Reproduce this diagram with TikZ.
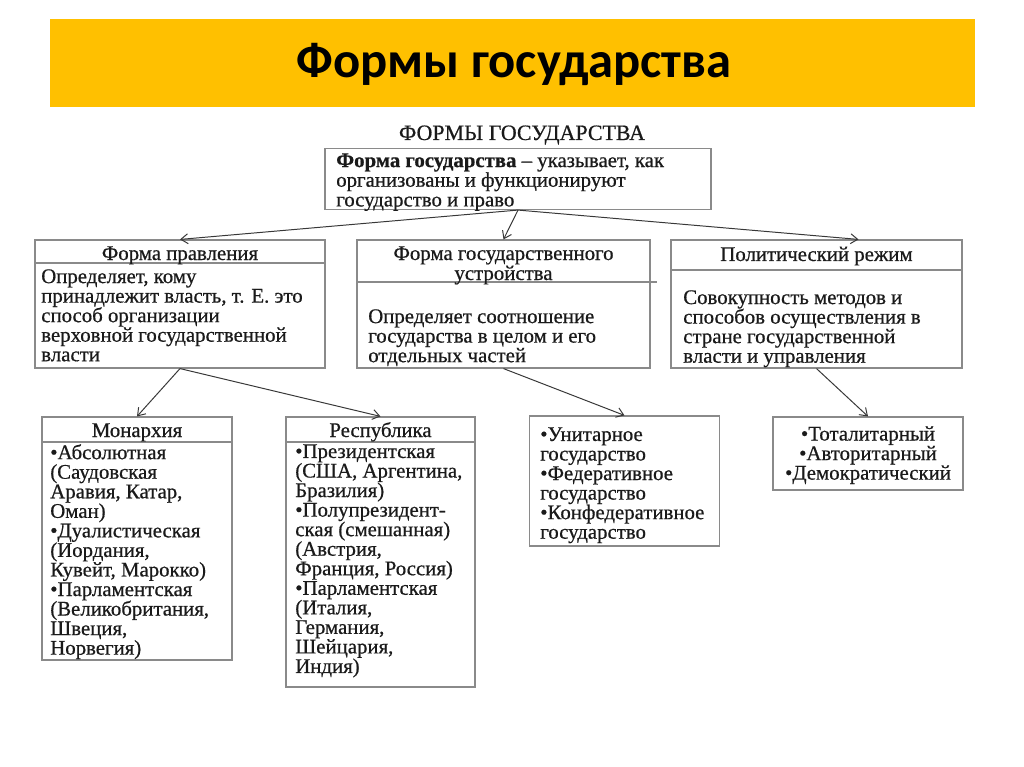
\documentclass[tikz,border=0pt]{standalone}
\usepackage{fontspec}
\setmainfont{Liberation Serif}
\newfontfamily\heavy{Liberation Serif}[FakeBold=0.6]
\newfontfamily\titlefont{Carlito}
\usetikzlibrary{arrows.meta,calc}
\definecolor{banner}{HTML}{FFC000}
\definecolor{boxgray}{HTML}{8A8A8A}
\definecolor{arrowgray}{HTML}{383838}
\definecolor{ink}{HTML}{1A1A1A}
\newcommand{\bodyfont}{\heavy\fontsize{14.8pt}{13.9pt}\selectfont\lineskiplimit=-20pt\relax}
\newcommand{\topfont}{\heavy\fontsize{14.8pt}{14pt}\selectfont\lineskiplimit=-20pt\relax}
\newcommand{\subfont}{\heavy\fontsize{15.6pt}{15.6pt}\selectfont}
\begin{document}
\begin{tikzpicture}[x=0.025cm,y=-0.025cm,
  box/.style={draw=boxgray,line width=0.8pt,rectangle,inner sep=0pt},
  sep/.style={draw=boxgray,line width=0.8pt},
  txt/.style={inner sep=0pt,anchor=north west,align=left,font=\bodyfont,text=ink},
  ctxt/.style={inner sep=0pt,anchor=north,align=center,font=\bodyfont,text=ink},
  head/.style={inner sep=0pt,anchor=base,font=\bodyfont,text=ink},
  arr/.style={draw=arrowgray,line width=0.7pt,-{Straight Barb[length=5pt,width=7pt]}}]
\useasboundingbox (0,0) rectangle (1024,767);
\fill[white] (0,0) rectangle (1024,767);
% banner
\node[fill=banner,minimum width=23.125cm,minimum height=2.2cm,inner sep=0pt] (banner) at (512.5,63) {};
\node[font=\titlefont\bfseries\fontsize{36pt}{36pt}\selectfont,inner sep=0pt] (title) at (514,64) {Формы государства};
\node[font=\subfont,inner sep=0pt,anchor=base,text=ink] (sub) at (522,140) {ФОРМЫ ГОСУДАРСТВА};
% boxes
\node[box,minimum width=9.65cm,minimum height=1.525cm] (top) at (518,179) {};
\node[box,minimum width=7.25cm,minimum height=3.2cm] (pravl) at (180,304) {};
\node[box,minimum width=7.325cm,minimum height=3.2cm] (ustr) at (503.5,304) {};
\node[box,minimum width=7.275cm,minimum height=3.2cm] (polit) at (816.5,304) {};
\node[box,minimum width=4.75cm,minimum height=6.075cm] (mon) at (137,538.5) {};
\node[box,minimum width=4.725cm,minimum height=6.75cm] (resp) at (380.5,552) {};
\node[box,minimum width=4.75cm,minimum height=3.25cm] (unit) at (624.5,481) {};
\node[box,minimum width=4.75cm,minimum height=1.825cm] (reg) at (868,453.5) {};
% separators
\draw[sep] (pravl.west |- 0,263) -- (pravl.east |- 0,263);
\draw[sep] (ustr.west |- 0,282) -- ($(ustr.east |- 0,282)+(6,0)$);
\draw[sep] (polit.west |- 0,270) -- (polit.east |- 0,270);
\draw[sep] (mon.west |- 0,442) -- (mon.east |- 0,442);
\draw[sep] (resp.west |- 0,442) -- (resp.east |- 0,442);
% texts
\node[txt,font=\topfont] (toptxt) at (336,153) {\strut\textbf{Форма государства} – указывает, как\\организованы и функционируют\\государство и право};
\node[head] (pravlh) at (180,260) {Форма правления};
\node[txt] (pravlt) at (41,269) {\strut Определяет, кому\\принадлежит власть, т. Е. это\\способ организации\\верховной государственной\\власти};
\node[head] (ustrh1) at (503.5,260) {Форма государственного};
\node[head] (ustrh2) at (503.5,280) {устройства};
\node[txt] (ustrt) at (368,309) {\strut Определяет соотношение\\государства в целом и его\\отдельных частей};
\node[head] (polith) at (816.5,261) {Политический режим};
\node[txt] (politt) at (683,290) {\strut Совокупность методов и\\способов осуществления в\\стране государственной\\власти и управления};
\node[head] (monh) at (137,437) {Монархия};
\node[txt] (mont) at (50,444) {\strut •Абсолютная\\(Саудовская\\Аравия, Катар,\\Оман)\\•Дуалистическая\\(Иордания,\\Кувейт, Марокко)\\•Парламентская\\(Великобритания,\\Швеция,\\Норвегия)};
\node[head] (resph) at (380.5,437) {Республика};
\node[txt] (respt) at (295,444) {\strut •Президентская\\(США, Аргентина,\\Бразилия)\\•Полупрезидент-\\ская (смешанная)\\(Австрия,\\Франция, Россия)\\•Парламентская\\(Италия,\\Германия,\\Шейцария,\\Индия)};
\node[txt] (unitt) at (540,427) {\strut •Унитарное\\государство\\•Федеративное\\государство\\•Конфедеративное\\государство};
\node[ctxt] (regt) at (868,426) {\strut •Тоталитарный\\•Авторитарный\\•Демократический};
% arrows
\draw[arr] (top.south) -- (pravl.north);
\draw[arr] (top.south) -- (ustr.north);
\draw[arr] (top.south) -- ($(polit.north)+(42,0)$);
\draw[arr] (pravl.south) -- (mon.north);
\draw[arr] (pravl.south) -- (resp.north);
\draw[arr] (ustr.south) -- (unit.north);
\draw[arr] (polit.south) -- (reg.north);
\end{tikzpicture}
\end{document}
